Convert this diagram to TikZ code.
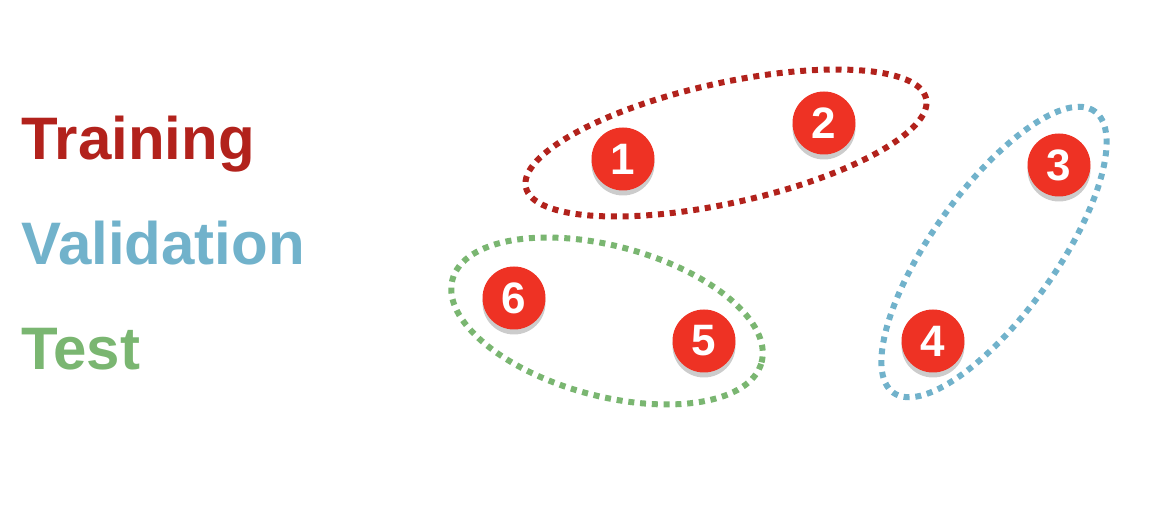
\documentclass[tikz,border=0pt]{standalone}
\usepackage{fontspec}
\setmainfont{Liberation Sans}
\usepackage{tikz}
\usetikzlibrary{shadows}
\definecolor{trainred}{RGB}{178,34,28}
\definecolor{validblue}{RGB}{113,178,203}
\definecolor{testgreen}{RGB}{122,182,113}
\definecolor{ballred}{RGB}{238,50,36}
\tikzset{
    setlabel/.style={anchor=base west, inner sep=0pt, font=\fontsize{30}{36}\selectfont\bfseries},
    ball/.style={circle, fill=ballred, minimum size=31.5pt, inner sep=0pt, text=white,
        font=\fontsize{22}{26}\selectfont\bfseries,
        drop shadow={shadow xshift=0pt, shadow yshift=-2.5pt, opacity=0.2, fill=black}},
    group/.style={line width=3pt, dash pattern=on 3pt off 2.9pt}
}
\begin{document}
\begin{tikzpicture}[x=0.5pt, y=0.5pt]
        \useasboundingbox (0,0) rectangle (1158,520);
        \node[setlabel, text=trainred] (training) at (21,360) {Training};
        \node[setlabel, text=validblue] (validation) at (21,255) {Validation};
        \node[setlabel, text=testgreen] (test) at (21,150) {Test};
        \draw[group, trainred, rotate around={12.5:(726,377)}]
            (726,377) ellipse [x radius=102.5pt, y radius=30pt];
        \draw[group, testgreen, rotate around={-15:(607,199)}]
            (607,199) ellipse [x radius=80pt, y radius=37.5pt];
        \draw[group, validblue, rotate around={54.4:(994,268)}]
            (994,268) ellipse [x radius=86.5pt, y radius=31pt];
        \node[ball] (one) at (623,361) {1};
        \node[ball] (two) at (824,397) {2};
        \node[ball] (three) at (1059,355) {3};
        \node[ball] (four) at (933,179) {4};
        \node[ball] (five) at (704,179) {5};
        \node[ball] (six) at (514,222) {6};
    \end{tikzpicture}
\end{document}
